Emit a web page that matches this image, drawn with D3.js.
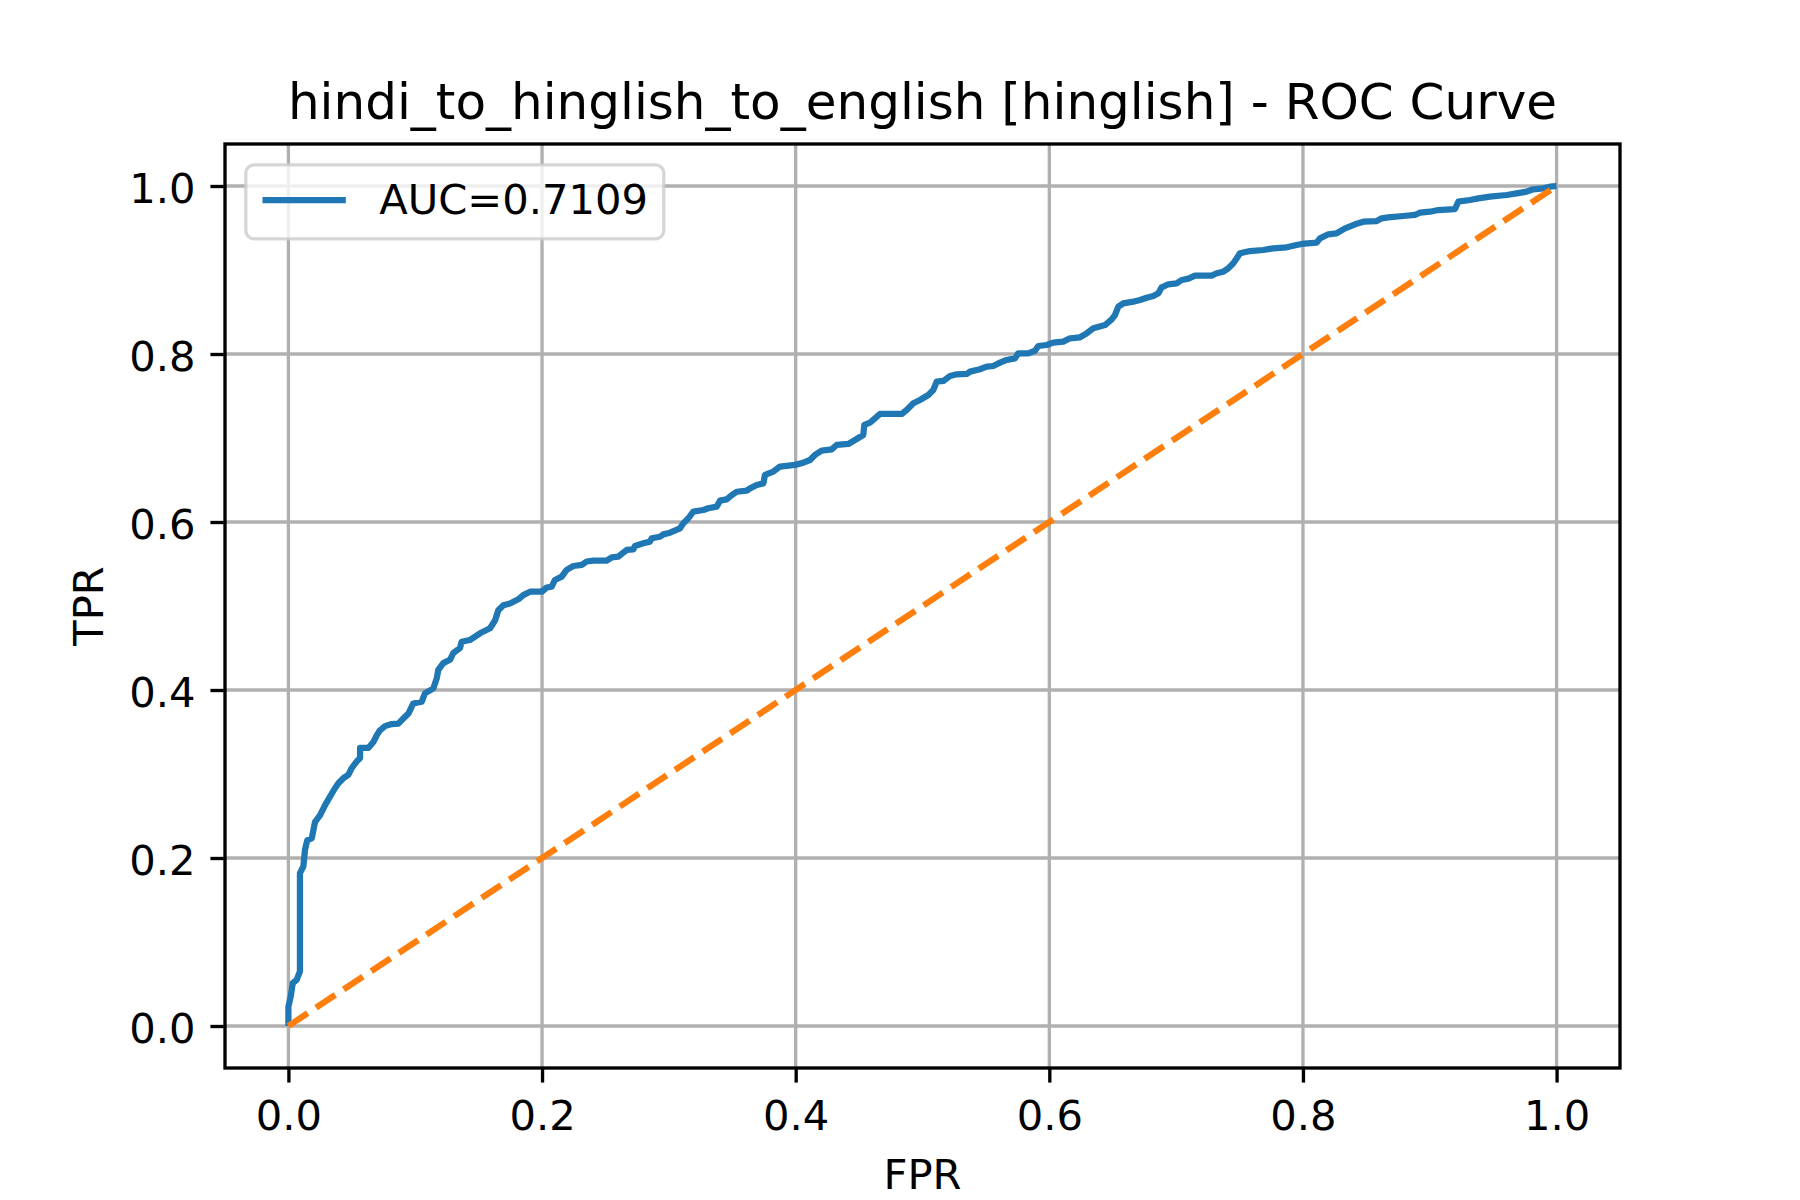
<!DOCTYPE html>
<html>
<head>
<meta charset="utf-8">
<script src="https://cdn.jsdelivr.net/npm/d3@7"></script>
<style>
  body { margin: 0; background: #ffffff; }
  svg { display: block; font-family: "DejaVu Sans", sans-serif; }
</style>
</head>
<body>
<svg id="chart" width="1800" height="1200"></svg>
<script>
// values
var fpr = [
  0, 0, 0.0018, 0.0034, 0.0065, 0.0091, 0.0091, 0.0118, 0.0131, 0.0149,
  0.0184, 0.0202, 0.021, 0.025, 0.0289, 0.0328, 0.0367, 0.0394, 0.0433, 0.0472,
  0.0499, 0.0539, 0.0565, 0.0565, 0.063, 0.067, 0.0696, 0.0722, 0.0762, 0.0815,
  0.0867, 0.0906, 0.0946, 0.0985, 0.1051, 0.1077, 0.1143, 0.117, 0.1182, 0.1221,
  0.1274, 0.13, 0.1353, 0.1366, 0.143,
  0.1511, 0.159, 0.163, 0.1655, 0.1695, 0.1747, 0.1813, 0.1852, 0.1905, 0.1997,
  0.2037, 0.2076, 0.2102, 0.2155, 0.2194, 0.2247, 0.2313, 0.2352, 0.2404, 0.251,
  0.255, 0.26, 0.264, 0.2668, 0.272, 0.2733, 0.2798, 0.2851, 0.2865, 0.293,
  0.2956, 0.3009, 0.3088, 0.3114, 0.3153, 0.3193, 0.3272, 0.3311, 0.3377, 0.3403,
  0.3456, 0.3496, 0.3535, 0.3614, 0.364, 0.3693, 0.3745, 0.3758, 0.3824,
  0.3876, 0.3995, 0.406, 0.4113, 0.4152, 0.4205, 0.4284, 0.4323, 0.4415, 0.4468,
  0.4533, 0.4541, 0.4586, 0.4625, 0.4665, 0.4836, 0.4875, 0.4928, 0.498, 0.5046,
  0.5085, 0.5112, 0.5164, 0.5217, 0.527, 0.5349, 0.5375, 0.5453, 0.5506, 0.5558,
  0.5611, 0.5664, 0.5729, 0.5755, 0.5834, 0.5887, 0.5913, 0.5979, 0.6031, 0.611,
  0.6163, 0.6242, 0.6295, 0.6347,
  0.6439, 0.6492, 0.6518, 0.6544, 0.6583, 0.6662, 0.6715, 0.6768, 0.682, 0.686,
  0.6886, 0.6938, 0.7004, 0.7044, 0.7096, 0.7149, 0.728, 0.732, 0.7372, 0.7411,
  0.7451, 0.7478, 0.7503,
  0.7582, 0.7687, 0.7766, 0.7872, 0.795, 0.799, 0.8108, 0.8134, 0.82, 0.8266,
  0.8332, 0.8411, 0.8476, 0.8581, 0.8621, 0.8673, 0.8791, 0.8883, 0.8923, 0.9002,
  0.9067, 0.9199, 0.9225, 0.9317, 0.9383, 0.9475, 0.9607, 0.9685, 0.9764, 0.9816,
  0.9895, 0.9948, 1
];
var tpr = [
  0, 0.023, 0.035, 0.051, 0.055, 0.065, 0.182, 0.19, 0.21, 0.221,
  0.2235, 0.237, 0.243, 0.251, 0.263, 0.273, 0.283, 0.289, 0.295, 0.299,
  0.307, 0.315, 0.319, 0.331, 0.331, 0.338, 0.346, 0.352, 0.357, 0.3595,
  0.36, 0.366, 0.372, 0.384, 0.386, 0.396, 0.402, 0.414, 0.424, 0.432,
  0.436, 0.444, 0.45, 0.4575, 0.4595,
  0.4675, 0.4735, 0.483, 0.495, 0.501, 0.503, 0.508, 0.513, 0.517, 0.517,
  0.522, 0.523, 0.531, 0.535, 0.543, 0.5476, 0.549, 0.553, 0.554, 0.554,
  0.558, 0.5587, 0.5635, 0.5667, 0.5675, 0.5714, 0.5746, 0.5766, 0.5806, 0.5825,
  0.5853, 0.5873, 0.5925, 0.5984, 0.6044, 0.6123, 0.6143, 0.6163, 0.6183, 0.6254,
  0.627, 0.632, 0.636, 0.6373, 0.64, 0.644, 0.646, 0.656, 0.66,
  0.666, 0.668, 0.6706, 0.6738, 0.6798, 0.6849, 0.6865, 0.6917, 0.6929, 0.6976,
  0.7036, 0.7155, 0.7183, 0.7234, 0.7286, 0.7286, 0.7333, 0.7413, 0.7452, 0.7512,
  0.7571, 0.767, 0.7679, 0.7738, 0.7758, 0.7762, 0.779, 0.7818, 0.7849, 0.7857,
  0.7897, 0.7929, 0.7948, 0.8008, 0.8008, 0.8039, 0.8095, 0.8107, 0.8135, 0.8147,
  0.8187, 0.8199, 0.8246, 0.8306,
  0.8345, 0.8413, 0.8464, 0.8563, 0.8603, 0.8623, 0.8643, 0.867, 0.869, 0.8722,
  0.8794, 0.883, 0.8841, 0.8881, 0.8897, 0.8933, 0.8933, 0.8961, 0.898, 0.902,
  0.908, 0.914, 0.9199,
  0.9226, 0.9238, 0.9258, 0.927, 0.9298, 0.931, 0.9325, 0.9377, 0.9425, 0.9437,
  0.9496, 0.9544, 0.9575, 0.9583, 0.9615, 0.9627, 0.9643, 0.9655, 0.9682, 0.9694,
  0.9714, 0.9726, 0.9813, 0.9833, 0.9853, 0.9873, 0.9893, 0.9913, 0.9933, 0.9961,
  0.9973, 0.9992, 1
];
var chanceFpr = [0, 1];
var chanceTpr = [0, 1];
var tickValues = [0, 0.2, 0.4, 0.6, 0.8, 1.0];
var titleText = "hindi_to_hinglish_to_english [hinglish] - ROC Curve";
var legendLabel = "AUC=0.7109";

var dims = { left: 225, right: 1620, top: 144, bottom: 1068 };
var pt = 300 / 72;   // px per point
var fontSize = 10 * pt;

var svg = d3.select("#chart");

var x = d3.scaleLinear().domain([-0.05, 1.05]).range([dims.left, dims.right]);
var y = d3.scaleLinear().domain([-0.05, 1.05]).range([dims.bottom, dims.top]);

svg.append("defs")
  .append("clipPath")
  .attr("id", "plot-clip")
  .append("rect")
  .attr("x", dims.left)
  .attr("y", dims.top)
  .attr("width", dims.right - dims.left)
  .attr("height", dims.bottom - dims.top);

// grid
var grid = svg.append("g").attr("class", "grid");
grid.selectAll("line.gx")
  .data(tickValues)
  .enter()
  .append("line")
  .attr("class", "gx")
  .attr("x1", function(d) { return x(d); })
  .attr("x2", function(d) { return x(d); })
  .attr("y1", dims.top)
  .attr("y2", dims.bottom);
grid.selectAll("line.gy")
  .data(tickValues)
  .enter()
  .append("line")
  .attr("class", "gy")
  .attr("x1", dims.left)
  .attr("x2", dims.right)
  .attr("y1", function(d) { return y(d); })
  .attr("y2", function(d) { return y(d); });
grid.selectAll("line")
  .style("stroke", "#b0b0b0")
  .style("stroke-width", 0.8 * pt);

// curves
var rocPoints = fpr.map(function(f, i) { return [f, tpr[i]]; });
var chancePoints = chanceFpr.map(function(f, i) { return [f, chanceTpr[i]]; });
var line = d3.line()
  .x(function(d) { return x(d[0]); })
  .y(function(d) { return y(d[1]); });

var plot = svg.append("g").attr("clip-path", "url(#plot-clip)");
plot.append("path")
  .datum(rocPoints)
  .attr("d", line)
  .style("fill", "none")
  .style("stroke", "#1f77b4")
  .style("stroke-width", 1.5 * pt)
  .style("stroke-linejoin", "round");
plot.append("path")
  .datum(chancePoints)
  .attr("d", line)
  .style("fill", "none")
  .style("stroke", "#ff7f0e")
  .style("stroke-width", 1.5 * pt)
  .style("stroke-dasharray", (5.55 * pt) + "," + (2.4 * pt));

// axes
var tickLen = 3.5 * pt;
var xAxis = svg.append("g")
  .attr("transform", "translate(0," + dims.bottom + ")")
  .call(d3.axisBottom(x).tickValues(tickValues).tickSize(tickLen)
    .tickFormat(d3.format(".1f")));
var yAxis = svg.append("g")
  .attr("transform", "translate(" + dims.left + ",0)")
  .call(d3.axisLeft(y).tickValues(tickValues).tickSize(tickLen)
    .tickPadding(15).tickFormat(d3.format(".1f")));
[xAxis, yAxis].forEach(function(axis) {
  axis.select(".domain").remove();
  axis.selectAll(".tick line")
    .style("stroke", "#000")
    .style("stroke-width", 0.8 * pt);
  axis.selectAll(".tick text")
    .style("font-family", "'DejaVu Sans', sans-serif")
    .style("font-size", fontSize + "px")
    .style("fill", "#000");
});
xAxis.selectAll(".tick text").attr("y", 61.5).attr("dy", 0);
yAxis.selectAll(".tick text").attr("dy", "16.3px");

// spines
svg.append("rect")
  .attr("x", dims.left)
  .attr("y", dims.top)
  .attr("width", dims.right - dims.left)
  .attr("height", dims.bottom - dims.top)
  .style("fill", "none")
  .style("stroke", "#000")
  .style("stroke-width", 0.8 * pt);

// labels
svg.append("text")
  .attr("x", (dims.left + dims.right) / 2)
  .attr("y", 119)
  .attr("text-anchor", "middle")
  .style("font-size", (12 * pt) + "px")
  .text(titleText);
svg.append("text")
  .attr("x", (dims.left + dims.right) / 2)
  .attr("y", 1189)
  .attr("text-anchor", "middle")
  .style("font-size", fontSize + "px")
  .text("FPR");
svg.append("text")
  .attr("transform", "translate(102.7," + (dims.top + dims.bottom) / 2 + ") rotate(-90)")
  .attr("text-anchor", "middle")
  .style("font-size", fontSize + "px")
  .text("TPR");

// legend
var legend = svg.append("g").attr("class", "legend");
legend.append("rect")
  .attr("x", 245.8)
  .attr("y", 164.8)
  .attr("width", 418)
  .attr("height", 74)
  .attr("rx", 8.3)
  .style("fill", "#fff")
  .style("fill-opacity", 0.8)
  .style("stroke", "#cccccc")
  .style("stroke-opacity", 0.8)
  .style("stroke-width", 0.8 * pt);
legend.append("line")
  .attr("x1", 262.5)
  .attr("x2", 345.8)
  .attr("y1", 200)
  .attr("y2", 200)
  .style("stroke", "#1f77b4")
  .style("stroke-width", 1.5 * pt);
legend.append("text")
  .attr("x", 379.2)
  .attr("y", 214.3)
  .style("font-size", fontSize + "px")
  .text(legendLabel);
</script>
</body>
</html>
